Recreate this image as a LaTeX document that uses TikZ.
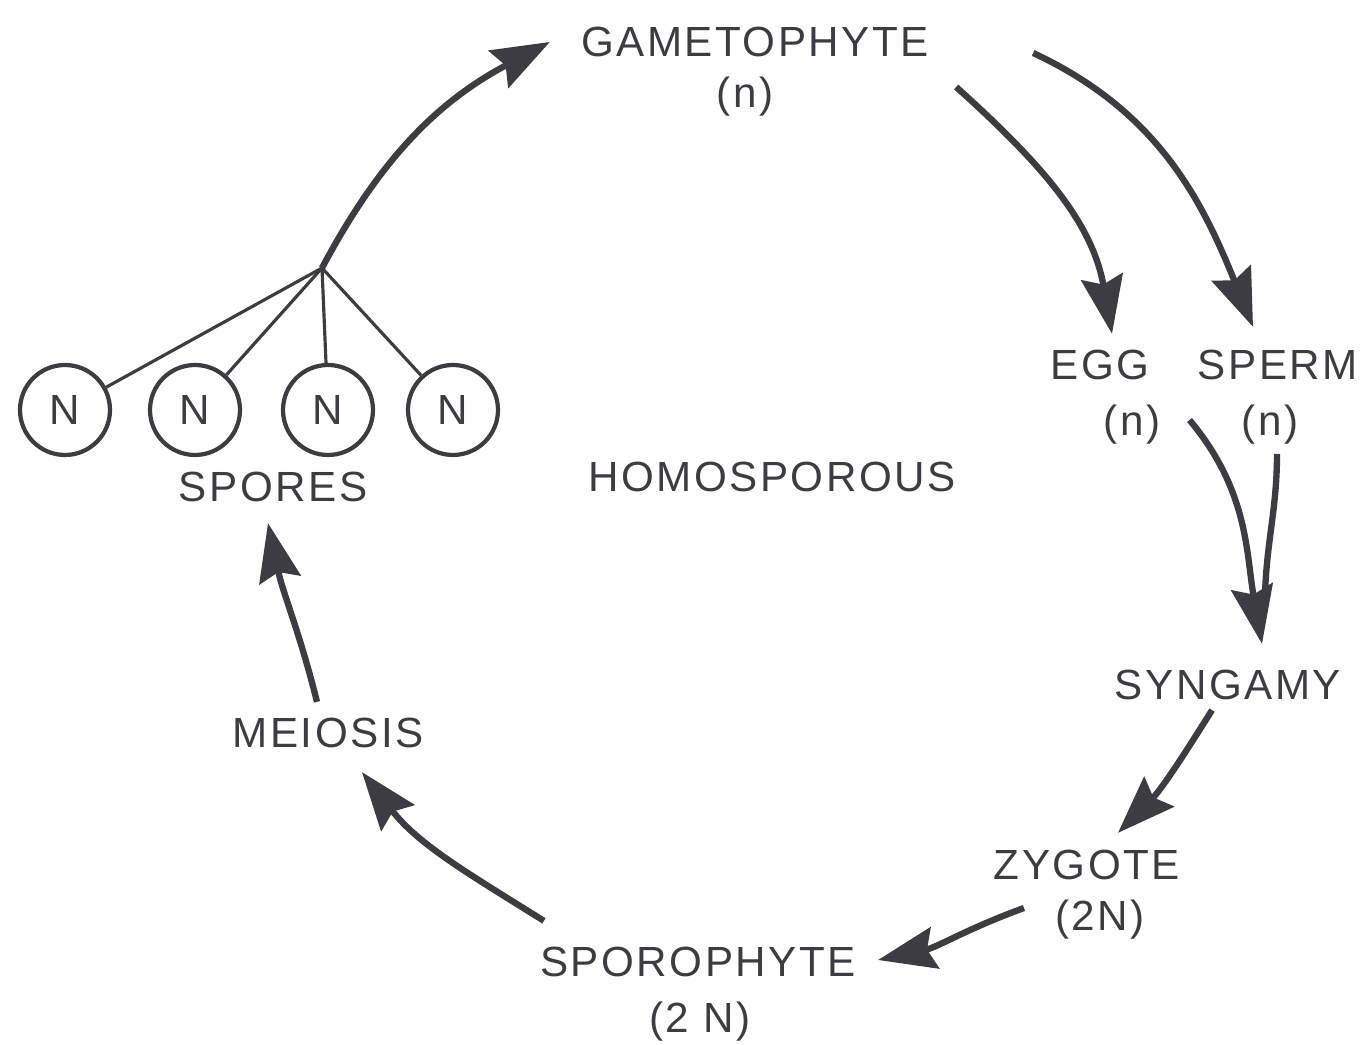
\documentclass[tikz,border=0pt]{standalone}
\usepackage{fontspec}
\setmainfont{Liberation Sans}[LetterSpace=6]
\usepackage{tikz}
\usetikzlibrary{calc,shapes,arrows.meta}

\definecolor{ink}{HTML}{3C3C42}
\tikzset{
  lbl/.style={inner sep=1pt,text=ink,font=\fontsize{12}{14}\selectfont},
  spore/.style={draw=ink,circle,line width=1.2pt,minimum size=0.9cm,inner sep=0pt,text=ink,font=\fontsize{12}{14}\selectfont},
  arr/.style={draw=ink,line width=1.8pt,-{Stealth[length=0.58cm,width=0.42cm,inset=0.08cm]}},
  twig/.style={draw=ink,line width=0.9pt}
}

\begin{document}
\begin{tikzpicture}
            \useasboundingbox (0,0) rectangle (13.7,10.45);
            % stages of the cycle
            \node[lbl] (gam) at (7.55,10.03) {GAMETOPHYTE};
            \node[lbl] (gamn) at (7.45,9.48) {(n)};
            \node[lbl] (egg) at (11.0,6.80) {EGG};
            \node[lbl] (eggn) at (11.32,6.20) {(n)};
            \node[lbl] (sperm) at (12.78,6.80) {SPERM};
            \node[lbl] (spermn) at (12.70,6.20) {(n)};
            \node[lbl] (syn) at (12.28,3.60) {SYNGAMY};
            \node[lbl] (zyg) at (10.87,1.80) {ZYGOTE};
            \node[lbl] (zygn) at (11.0,1.25) {(2N)};
            \node[lbl] (spo) at (6.98,0.83) {SPOROPHYTE};
            \node[lbl] (spon) at (7.0,0.23) {(2 N)};
            \node[lbl] (mei) at (3.28,3.12) {MEIOSIS};
            \node[lbl] (spores) at (2.73,5.58) {SPORES};
            \node[lbl] (homo) at (7.72,5.68) {HOMOSPOROUS};
            % the four spores
            \node[spore] (s1) at (0.65,6.35) {N};
            \node[spore] (s2) at (1.95,6.35) {N};
            \node[spore] (s3) at (3.28,6.35) {N};
            \node[spore] (s4) at (4.53,6.35) {N};
            \coordinate (J) at (3.22,7.77);
            \path[twig] (J) edge (s1) (J) edge (s2) (J) edge (s3) (J) edge (s4);
            % arrows
            \draw[arr] (J) to[out=62,in=208] ([xshift=-0.27cm]gam.west);
            \draw[arr] ([shift={(0.23,-0.45)}]gam.east) to[out=-42,in=100] ([xshift=0.12cm,yshift=0.12cm]egg.north);
            \draw[arr] ([shift={(1.0,-0.11)}]gam.east) to[out=-25,in=112] ([xshift=-0.25cm,yshift=0.19cm]sperm.north);
            \draw[arr] ([xshift=0.25cm,yshift=0.05cm]eggn.east) to[out=-50,in=100] ([xshift=0.34cm,yshift=0.22cm]syn.north);
            \draw[twig,line width=1.8pt] ([xshift=0.07cm,yshift=-0.05cm]spermn.south) to[out=-90,in=88] ([xshift=0.37cm,yshift=0.72cm]syn.north);
            \draw[arr] ([xshift=-0.16cm,yshift=-0.06cm]syn.south) to[out=-122,in=45] ([xshift=0.31cm,yshift=0.13cm]zyg.north);
            \draw[arr] ([xshift=-0.27cm,yshift=0.12cm]zygn.west) to[out=200,in=12] ([xshift=0.18cm,yshift=0.02cm]spo.east);
            \draw[arr] ([shift={(0.08,0.22)}]spo.north west) to[out=148,in=-52] ([xshift=0.34cm,yshift=-0.20cm]mei.south);
            \draw[arr] ([xshift=-0.11cm,yshift=0.12cm]mei.north) to[out=104,in=-78] ([xshift=-0.05cm,yshift=-0.17cm]spores.south);
          \end{tikzpicture}
\end{document}
